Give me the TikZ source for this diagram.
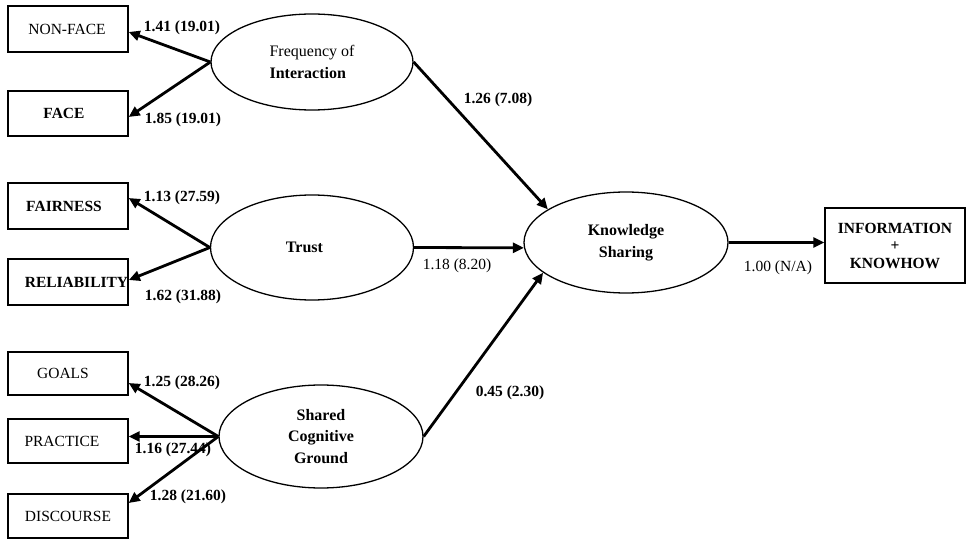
\documentclass[tikz,border=0pt]{standalone}
\usepackage{fontspec}
\setmainfont{Liberation Serif}
\usetikzlibrary{shapes.geometric,arrows.meta,calc}
\begin{document}
\begin{tikzpicture}[x=1pt,y=-1pt,
  every node/.style={font=\fontsize{15.5}{18}\selectfont},
  indicator/.style={draw,line width=1.4pt,minimum width=120pt,inner sep=0pt},
  latent/.style={draw,ellipse,line width=1.3pt,inner sep=0pt,align=center,
    font=\fontsize{16}{21.5}\selectfont},
  outcome/.style={draw,line width=1.4pt,inner sep=0pt,align=center,
    minimum width=140pt,minimum height=75pt,font=\fontsize{15.5}{17.5}\selectfont\bfseries},
  loading/.style={line width=2.8pt,-{Triangle[length=11pt,width=10pt]}},
  coef/.style={font=\fontsize{15.5}{18}\selectfont\bfseries,inner sep=0pt},
  coefr/.style={font=\fontsize{15.5}{18}\selectfont,inner sep=0pt}]

\useasboundingbox (0,0) rectangle (967,540);

% observed indicators
\node[indicator,minimum height=46pt] (nonface)   at (68,29)    {\hspace*{-2pt}NON-FACE};
\node[indicator,minimum height=45pt] (face)      at (68,113.5) {\hspace*{-8pt}\textbf{FACE}};
\node[indicator,minimum height=46pt] (fairness)  at (68,206)   {\hspace*{-8pt}\textbf{FAIRNESS}};
\node[indicator,minimum height=46pt] (reliab)    at (68,282)   {\hspace*{17pt}\textbf{RELIABILITY}};
\node[indicator,minimum height=43pt] (goals)     at (68,373.5) {\hspace*{-10pt}GOALS};
\node[indicator,minimum height=44pt] (practice)  at (68,441)   {\hspace*{-12pt}PRACTICE};
\node[indicator,minimum height=44pt] (discourse) at (68,516)   {DISCOURSE};

% latent constructs
\node[latent,align=left,minimum width=202pt,minimum height=96pt] (freq) at (312,62)
  {Frequency of\\\textbf{Interaction}};
\node[latent,minimum width=203pt,minimum height=105pt] (trust) at (312,247.5)
  {\hspace*{-15pt}\textbf{Trust}};
\node[latent,minimum width=204pt,minimum height=103pt] (shared) at (321,436.5)
  {\textbf{Shared}\\\textbf{Cognitive}\\\textbf{Ground}};
\node[latent,minimum width=204pt,minimum height=101pt] (know) at (626,242.5)
  {\textbf{Knowledge}\\\textbf{Sharing}};

% outcome indicator
\node[outcome] (info) at (895,245.5) {INFORMATION\\+\\KNOWHOW};

% measurement paths
\draw[loading] (freq.west)   -- ($(nonface.east)+(0,3)$);
\draw[loading] (freq.west)   -- ($(face.east)+(0,3.5)$);
\draw[loading] (trust.west)  -- ($(fairness.east)+(0,-8)$);
\draw[loading] (trust.west)  -- ($(reliab.east)+(0,-2)$);
\draw[loading] (shared.west) -- ($(goals.east)+(0,9.5)$);
\draw[loading] (shared.west) -- (shared.west -| practice.east);
\draw[loading] (shared.west) -- ($(discourse.east)+(0,-13)$);

% structural paths
\draw[loading] (freq.east)   -- (know.157);
\draw[loading] (trust.east)  -- (know.183);
\draw[loading] (shared.east) -- (know.200);
\draw[loading] (know.east)   -- (know.east -| info.west);

% path coefficients
\node[coef]  (c1)  at (182,28)  {1.41 (19.01)};
\node[coef]  (c2)  at (183,120) {1.85 (19.01)};
\node[coef]  (c3)  at (182,198) {1.13 (27.59)};
\node[coef]  (c4)  at (183,297) {1.62 (31.88)};
\node[coef]  (c5)  at (182,383) {1.25 (28.26)};
\node[coef]  (c6)  at (173,450) {1.16 (27.44)};
\node[coef]  (c7)  at (188,497) {1.28 (21.60)};
\node[coef]  (c8)  at (498,100) {1.26 (7.08)};
\node[coefr] (c9)  at (457,266) {1.18 (8.20)};
\node[coef]  (c10) at (510,393) {0.45 (2.30)};
\node[coefr] (c11) at (778,268) {1.00 (N/A)};
\end{tikzpicture}
\end{document}
